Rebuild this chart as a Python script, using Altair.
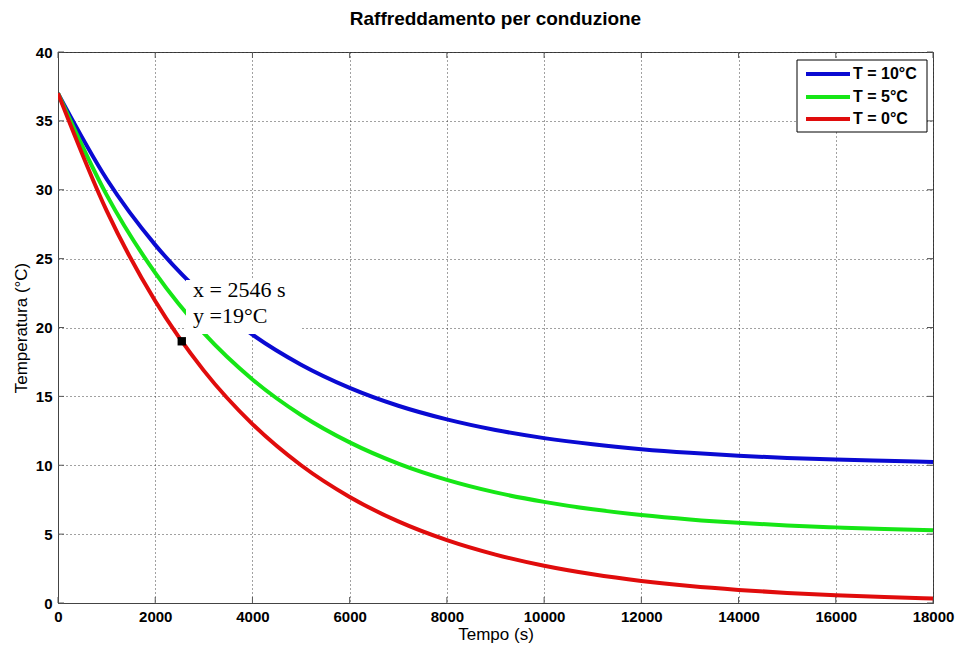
import altair as alt
import pandas as pd

# ---- data ----
time_s = [0, 1000, 2000, 3000, 4000, 5000, 6000, 7000, 8000, 9000, 10000,
          11000, 12000, 13000, 14000, 15000, 16000, 17000, 18000]
temp_10 = [37.0, 30.78, 26.00, 22.31, 19.48, 17.30, 15.62, 14.32, 13.33, 12.56, 11.97,
           11.52, 11.17, 10.90, 10.69, 10.53, 10.41, 10.32, 10.24]
temp_5 = [37.0, 29.63, 23.96, 19.59, 16.23, 13.65, 11.66, 10.12, 8.94, 8.03, 7.34,
          6.80, 6.39, 6.07, 5.82, 5.63, 5.49, 5.37, 5.29]
temp_0 = [37.0, 28.48, 21.92, 16.87, 12.99, 10.00, 7.70, 5.92, 4.56, 3.51, 2.70,
          2.08, 1.60, 1.23, 0.95, 0.73, 0.56, 0.43, 0.33]
series_names = ["T = 10°C", "T = 5°C", "T = 0°C"]
series_colors = ["#0a0ad2", "#16e616", "#e00c0c"]

x_ticks = [0, 2000, 4000, 6000, 8000, 10000, 12000, 14000, 16000, 18000]
y_ticks = [0, 5, 10, 15, 20, 25, 30, 35, 40]

marker_x = [2546]
marker_y = [19]
note_lines = ["x = 2546 s", "y =19°C"]
note_text_x = [2777, 2777]
note_text_y = [22.2, 20.33]
note_box = {"x": [2633], "x2": [4978], "y": [19.53], "y2": [23.45]}

W, H = 875, 551
FONT = "Liberation Sans"

rows = []
for name, vals in zip(series_names, [temp_10, temp_5, temp_0]):
    for t, v in zip(time_s, vals):
        rows.append({"t": t, "T": v, "serie": name})
df = pd.DataFrame(rows)

xs = alt.Scale(domain=[0, 18000], nice=False, zero=False)
ys = alt.Scale(domain=[0, 40], nice=False, zero=False)

x_axis = alt.Axis(values=x_ticks, title="Tempo (s)", format="d", ticks=False,
                  grid=True, gridDash=[1, 3], gridColor="#222", gridOpacity=0.85,
                  labelFont=FONT, labelFontSize=15, labelFontWeight="bold", labelColor="black",
                  labelPadding=6, titleFont=FONT, titleFontSize=17, titleFontWeight="normal",
                  titleColor="black", titlePadding=2, domainColor="#444", labelFlush=False)
y_axis = alt.Axis(values=y_ticks, title="Temperatura (°C)", ticks=False,
                  grid=True, gridDash=[1, 3], gridColor="#222", gridOpacity=0.85,
                  labelFont=FONT, labelFontSize=15, labelFontWeight="bold", labelColor="black",
                  labelPadding=6, titleFont=FONT, titleFontSize=17, titleFontWeight="normal",
                  titleColor="black", titlePadding=5, domainColor="#444", labelFlush=False)

color_scale = alt.Scale(domain=series_names, range=series_colors)

lines = alt.Chart(df).mark_line(strokeWidth=4, interpolate="monotone", clip=True).encode(
    x=alt.X("t:Q", scale=xs, axis=x_axis),
    y=alt.Y("T:Q", scale=ys, axis=y_axis),
    color=alt.Color("serie:N", scale=color_scale, legend=None),
)

xt = pd.DataFrame({"v": x_ticks})
yt = pd.DataFrame({"v": y_ticks})
tick_col = "#555"
tb = alt.Chart(xt).mark_rule(color=tick_col).encode(x=alt.X("v:Q", scale=xs), y=alt.value(H), y2=alt.value(H - 6))
tt = alt.Chart(xt).mark_rule(color=tick_col).encode(x=alt.X("v:Q", scale=xs), y=alt.value(0), y2=alt.value(6))
tl = alt.Chart(yt).mark_rule(color=tick_col).encode(y=alt.Y("v:Q", scale=ys), x=alt.value(0), x2=alt.value(6))
tr = alt.Chart(yt).mark_rule(color=tick_col).encode(y=alt.Y("v:Q", scale=ys), x=alt.value(W), x2=alt.value(W - 6))

box = alt.Chart(pd.DataFrame(note_box)).mark_rect(color="white").encode(
    x=alt.X("x:Q", scale=xs), x2="x2", y=alt.Y("y:Q", scale=ys), y2="y2")
note = alt.Chart(pd.DataFrame({"x": note_text_x, "y": note_text_y, "txt": note_lines})).mark_text(
    font="Liberation Serif", fontSize=22, align="left", baseline="alphabetic", color="black").encode(
    x=alt.X("x:Q", scale=xs), y=alt.Y("y:Q", scale=ys), text="txt:N")
marker = alt.Chart(pd.DataFrame({"x": marker_x, "y": marker_y})).mark_square(
    size=70, color="black", opacity=1, filled=True).encode(
    x=alt.X("x:Q", scale=xs), y=alt.Y("y:Q", scale=ys))

# ---- legend (drawn as a box in the top-right corner) ----
LX0, LX1, LY0, LY1 = 739, 869, 8, 80
row_y = [22, 45, 67]
leg_layers = [
    alt.Chart(pd.DataFrame({"k": [0]})).mark_rect(fill="white", stroke="black", strokeWidth=1).encode(
        x=alt.value(LX0), x2=alt.value(LX1), y=alt.value(LY0), y2=alt.value(LY1))
]
for name, col, yy in zip(series_names, series_colors, row_y):
    d = pd.DataFrame({"serie": [name]})
    leg_layers.append(alt.Chart(d).mark_rule(strokeWidth=4, color=col).encode(
        x=alt.value(LX0 + 9), x2=alt.value(LX0 + 53), y=alt.value(yy)))
    leg_layers.append(alt.Chart(d).mark_text(
        font=FONT, fontSize=16, fontWeight="bold", align="left", baseline="middle", color="black").encode(
        x=alt.value(LX0 + 56), y=alt.value(yy), text="serie:N"))

chart = alt.layer(tb, tt, tl, tr, lines, box, note, marker, *leg_layers).properties(
    width=W, height=H,
    title=alt.TitleParams("Raffreddamento per conduzione", font=FONT, fontSize=19,
                          fontWeight="bold", color="black", offset=16, anchor="middle"),
    autosize=alt.AutoSizeParams(type="none"),
    padding={"left": 58, "top": 52, "right": 24, "bottom": 45},
    background="white",
).configure_view(stroke="#444", strokeWidth=1)

chart.save("out.html", embed_options={"renderer": "svg", "actions": False})
